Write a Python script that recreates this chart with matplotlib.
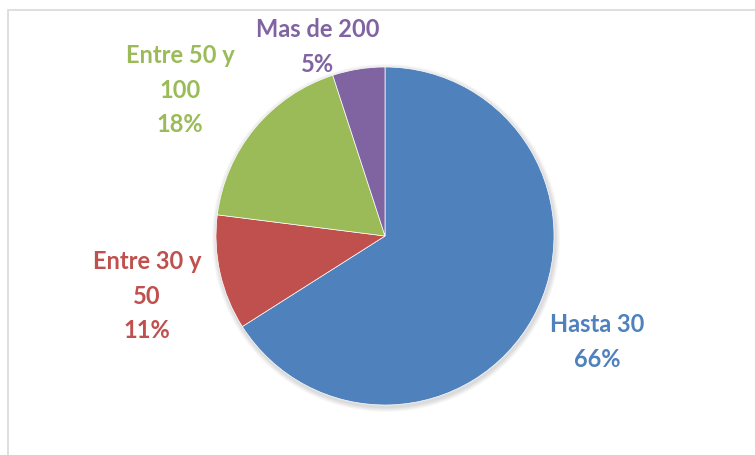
import matplotlib
matplotlib.use('Agg')
import matplotlib.pyplot as plt
from matplotlib.patches import Rectangle, Circle

# data
categories = ['Hasta 30', 'Entre 30 y\n50', 'Entre 50 y\n100', 'Mas de 200']
values = [66, 11, 18, 5]
colors = ['#4F81BD', '#C0504D', '#9BBB59', '#8064A2']

# label placement (pixels, y from top)
label_pos = [(597, 342), (147, 296), (180, 90), (318, 47)]

W, H = 755, 456
fig = plt.figure(figsize=(W / 100, H / 100), dpi=100)
ax = fig.add_axes([0, 0, 1, 1])
ax.set_xlim(0, W)
ax.set_ylim(0, H)
ax.set_aspect('equal')
ax.axis('off')

# chart frame
ax.add_patch(Rectangle((7.5, -5), W, H - 10.5 + 5, fill=False, ec='#D9D9D9', lw=1.2))

cx, cy, r = 385, H - 237, 169

# soft shadow
for i in range(6):
    ax.add_patch(Circle((cx + 1, cy - 2), r + 1 + i * 0.8, color='black', alpha=0.025, lw=0, zorder=1))

wedges, _ = ax.pie(values, colors=colors, startangle=90, counterclock=False,
                   center=(cx, cy), radius=r, frame=True,
                   wedgeprops=dict(linewidth=0.5, edgecolor='white'))
for w in wedges:
    w.set_zorder(2)
ax.set_xlim(0, W)
ax.set_ylim(0, H)
ax.axis('off')

for cat, val, col, (x, y) in zip(categories, values, colors, label_pos):
    ax.text(x, H - y, f'{cat}\n{val}%', ha='center', va='center', color=col,
            fontsize=17, fontweight='bold', family=['Lato', 'DejaVu Sans'],
            linespacing=1.58, zorder=3)

fig.savefig('out.png', dpi=100)
